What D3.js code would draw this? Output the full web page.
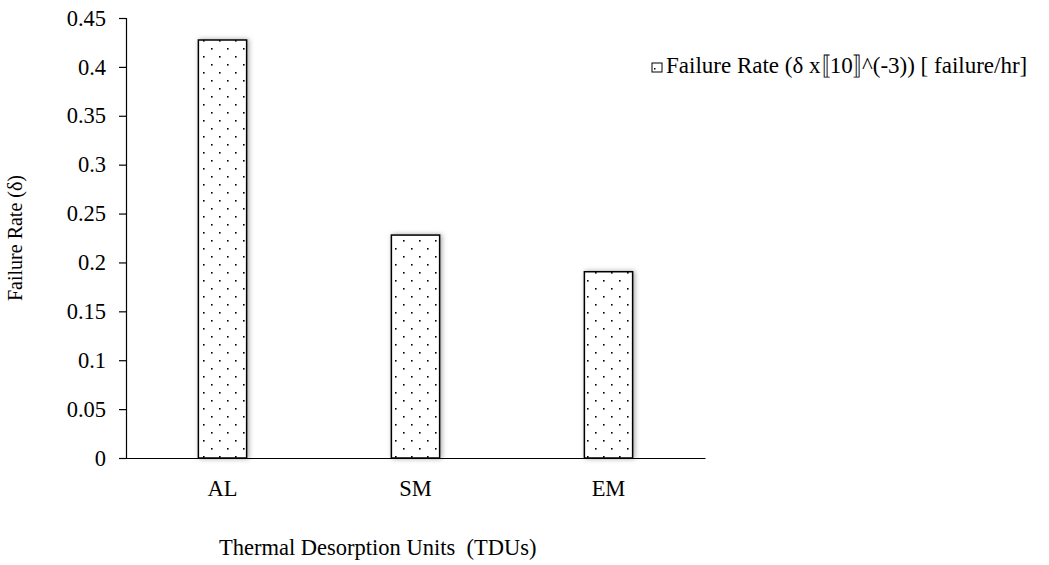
<!DOCTYPE html>
<html>
<head>
<meta charset="utf-8">
<script src="https://cdn.jsdelivr.net/npm/d3@7"></script>
<style>
  html, body { margin: 0; padding: 0; background: #fff; }
  svg text { font-family: "Liberation Serif", "Times New Roman", serif; fill: #000; }
</style>
</head>
<body>
<div id="chart"></div>
<script>
// Chart data
const categories = ['AL', 'SM', 'EM'];
const failureRates = [0.4275, 0.228, 0.1905];
const yTicks = [0, 0.05, 0.1, 0.15, 0.2, 0.25, 0.3, 0.35, 0.4, 0.45];
const legendParts = ['Failure Rate (δ x', '\u301A', '10', '\u301B', '^(-3)) [ failure/hr]'];
const xTitle = 'Thermal Desorption Units  (TDUs)';
const yTitle = 'Failure Rate (δ)';

const width = 1049;
const height = 565;

const svg = d3.select('#chart')
    .append('svg')
    .attr('width', width)
    .attr('height', height);

// Dotted fill pattern and soft shadow
const defs = svg.append('defs');
const pat = defs.append('pattern')
    .attr('id', 'dots')
    .attr('patternUnits', 'userSpaceOnUse')
    .attr('width', 16)
    .attr('height', 16)
    .attr('x', 199)
    .attr('y', 0);
pat.append('rect').attr('width', 16).attr('height', 16).attr('fill', '#fff');
pat.append('rect').attr('x', 4).attr('y', 8).attr('width', 1.6).attr('height', 1.6).attr('fill', '#000');
pat.append('rect').attr('x', 12).attr('y', 0).attr('width', 1.6).attr('height', 1.6).attr('fill', '#000');

const shadow = defs.append('filter')
    .attr('id', 'shadow')
    .attr('x', '-30%').attr('y', '-10%')
    .attr('width', '160%').attr('height', '120%');
shadow.append('feDropShadow')
    .attr('dx', 1.5)
    .attr('dy', 0)
    .attr('stdDeviation', 2.5)
    .attr('flood-color', '#000')
    .attr('flood-opacity', 0.35);

const x = d3.scaleBand()
    .domain(categories)
    .range([126, 705])
    .paddingInner(0.75)
    .paddingOuter(0.375);

const y = d3.scaleLinear()
    .domain([0, 0.45])
    .range([458, 18]);

// Bars
svg.append('g')
    .selectAll('rect')
    .data(categories)
    .join('rect')
    .attr('x', d => x(d))
    .attr('y', (d, i) => y(failureRates[i]))
    .attr('width', x.bandwidth())
    .attr('height', (d, i) => y(0) - y(failureRates[i]))
    .attr('fill', 'url(#dots)')
    .attr('stroke', '#000')
    .attr('stroke-width', 1.5)
    .attr('filter', 'url(#shadow)');

// Y axis
const yAxis = svg.append('g')
    .attr('transform', 'translate(126,0)')
    .call(d3.axisLeft(y)
        .tickValues(yTicks)
        .tickSize(7)
        .tickPadding(13)
        .tickFormat(d => d === 0 ? '0' : String(+d.toFixed(2))));
yAxis.select('.domain').attr('stroke', '#000').attr('stroke-width', 1.2);
yAxis.selectAll('.tick line').attr('stroke', '#000').attr('stroke-width', 1.2);
yAxis.selectAll('.tick text')
    .attr('font-size', '22.5px')
    .attr('font-family', '"Liberation Serif", serif')
    .attr('fill', '#000');

// X axis
const xAxis = svg.append('g')
    .attr('transform', `translate(0,${y(0)})`)
    .call(d3.axisBottom(x).tickSize(0).tickPadding(22));
xAxis.select('.domain').attr('stroke', '#000').attr('stroke-width', 1.2);
xAxis.selectAll('.tick text')
    .attr('font-size', '22.5px')
    .attr('font-family', '"Liberation Serif", serif')
    .attr('fill', '#000');

// Axis titles
svg.append('text')
    .attr('x', 219)
    .attr('y', 555)
    .attr('font-size', '22.5px')
    .style('white-space', 'pre')
    .text(xTitle);

svg.append('text')
    .attr('transform', `translate(22,${(y(0) + y(0.45)) / 2}) rotate(-90)`)
    .attr('text-anchor', 'middle')
    .attr('font-size', '20px')
    .text(yTitle);

// Legend
const legend = svg.append('g').attr('transform', 'translate(652,63)');
legend.append('rect')
    .attr('width', 10)
    .attr('height', 9)
    .attr('fill', '#fff')
    .attr('stroke', '#000')
    .attr('stroke-width', 1);
legend.append('rect')
    .attr('x', 2).attr('y', 5)
    .attr('width', 1.5).attr('height', 1.5)
    .attr('fill', '#000');
const legendText = legend.append('text')
    .attr('x', 14)
    .attr('y', 10)
    .attr('font-size', '23px');
// the full-width brackets come from a CJK fallback font; pull the next run back so they sit tight
legendText.selectAll('tspan')
    .data(legendParts)
    .join('tspan')
    .attr('dx', (d, i) => (i === 2 || i === 4) ? '-0.6em' : null)
    .text(d => d);
</script>
</body>
</html>
